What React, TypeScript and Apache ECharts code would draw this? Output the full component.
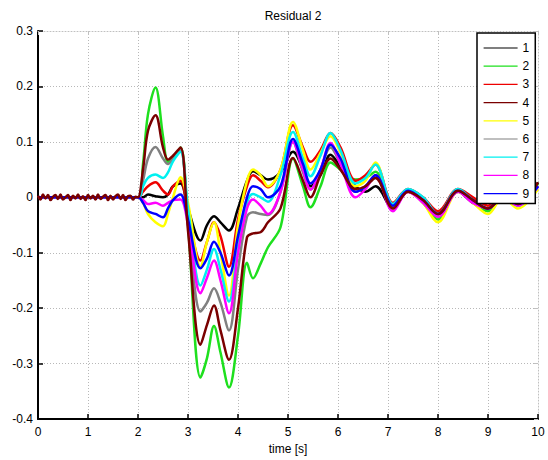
import React, { useEffect, useRef } from "react";
import * as echarts from "echarts";

const seriesNames = ["1", "2", "3", "4", "5", "6", "7", "8", "9"];
const seriesColors = ["#000000", "#1ee01e", "#ee0000", "#7a0000", "#ffff00", "#808080", "#00f0f0", "#ff00ff", "#0000ff"];

const xTicks = [0, 1, 2, 3, 4, 5, 6, 7, 8, 9, 10];
const yTicks = [-0.4, -0.3, -0.2, -0.1, 0, 0.1, 0.2, 0.3];

const noiseTime = [0, 0.05, 0.1, 0.15, 0.2, 0.25, 0.3, 0.35, 0.4, 0.45, 0.5, 0.55, 0.6, 0.65, 0.7, 0.75, 0.8, 0.85, 0.9, 0.95,
  1.0, 1.05, 1.1, 1.15, 1.2, 1.25, 1.3, 1.35, 1.4, 1.45, 1.5, 1.55, 1.6, 1.65, 1.7, 1.75, 1.8, 1.85, 1.9, 1.95];
const noiseVals = [0.003, -0.004, 0.005, -0.002, 0.004, -0.005, 0.001, 0.004, -0.003, 0.005, -0.004, 0.0, 0.004, -0.005, 0.003, -0.002, 0.005, -0.003, 0.002, -0.005,
  0.004, -0.002, 0.003, -0.004, 0.005, -0.003, 0.001, 0.004, -0.005, 0.003, -0.004, 0.002, 0.005, -0.003, 0.004, -0.005, 0.002, 0.003, -0.004, 0.001];

const time = [2.0, 2.1, 2.2, 2.35, 2.5, 2.6, 2.7, 2.85, 3.0, 3.25, 3.38, 3.52, 3.65, 3.82, 4.0, 4.18, 4.3, 4.45, 4.6, 4.85,
  5.1, 5.3, 5.45, 5.65, 5.85, 6.05, 6.35, 6.55, 6.75, 7.1, 7.4, 7.7, 8.0, 8.4, 8.7, 9.0, 9.3, 9.6, 10];

const s1 = [0, 0.0, 0.005, 0.002, 0.0, 0.005, 0.02, 0.025, -0.02, -0.078, -0.05, -0.034, -0.045, -0.06, -0.02, 0.03, 0.047, 0.04, 0.032, 0.045,
  0.082, 0.05, 0.02, 0.04, 0.077, 0.055, 0.02, 0.01, 0.02, -0.02, 0.01, -0.005, -0.03, 0.01, -0.01, -0.02, 0.0, -0.01, 0.027];
const s2 = [0, 0.06, 0.15, 0.198, 0.11, 0.064, 0.07, 0.09, -0.05, -0.325, -0.29, -0.232, -0.28, -0.343, -0.25, -0.118, -0.146, -0.12, -0.09, -0.054,
  0.07, 0.02, -0.018, 0.02, 0.063, 0.05, 0.032, 0.035, 0.046, -0.02, 0.012, -0.01, -0.04, 0.014, -0.01, -0.025, 0.0, -0.015, 0.025];
const s3 = [0, 0.01, 0.02, 0.027, 0.012, 0.005, 0.02, 0.03, -0.03, -0.114, -0.08, -0.045, -0.07, -0.125, -0.04, 0.02, 0.04, 0.03, 0.018, 0.05,
  0.13, 0.09, 0.064, 0.085, 0.116, 0.09, 0.03, 0.04, 0.059, -0.01, 0.015, 0.0, -0.025, 0.015, 0.0, -0.015, 0.005, -0.01, 0.02];
const s4 = [0, 0.05, 0.12, 0.148, 0.09, 0.068, 0.075, 0.09, -0.06, -0.266, -0.23, -0.195, -0.24, -0.293, -0.2, -0.072, -0.065, -0.063, -0.045, -0.02,
  0.071, 0.03, 0.0, 0.04, 0.07, 0.05, 0.015, 0.02, 0.035, -0.02, 0.01, -0.005, -0.03, 0.012, -0.005, -0.02, 0.0, -0.012, 0.027];
const s5 = [0, -0.01, -0.03, -0.045, -0.052, -0.03, 0.0, 0.036, -0.01, -0.125, -0.08, -0.045, -0.1, -0.177, -0.05, 0.03, 0.05, 0.04, 0.02, 0.05,
  0.136, 0.085, 0.05, 0.08, 0.11, 0.08, 0.02, 0.03, 0.063, -0.02, 0.012, -0.01, -0.045, 0.01, -0.01, -0.03, 0.0, -0.02, 0.015];
const s6 = [0, 0.03, 0.07, 0.091, 0.07, 0.06, 0.07, 0.085, -0.04, -0.206, -0.19, -0.164, -0.19, -0.24, -0.13, -0.035, -0.027, -0.03, -0.032, 0.01,
  0.1, 0.045, 0.014, 0.05, 0.09, 0.06, 0.01, 0.02, 0.04, -0.015, 0.01, -0.005, -0.035, 0.012, -0.005, -0.02, 0.0, -0.015, 0.02];
const s7 = [0, 0.02, 0.035, 0.041, 0.035, 0.045, 0.065, 0.082, -0.02, -0.159, -0.13, -0.093, -0.13, -0.188, -0.09, -0.01, 0.006, 0.0, -0.008, 0.04,
  0.118, 0.07, 0.038, 0.075, 0.116, 0.085, 0.025, 0.035, 0.059, -0.012, 0.015, 0.0, -0.03, 0.015, -0.005, -0.02, 0.003, -0.015, 0.02];
const s8 = [0, -0.005, -0.012, -0.01, -0.015, -0.01, -0.005, -0.004, -0.05, -0.173, -0.145, -0.114, -0.15, -0.209, -0.1, -0.02, -0.004, -0.015, -0.03, 0.01,
  0.1, 0.05, 0.014, 0.05, 0.098, 0.06, 0.0, 0.015, 0.04, -0.025, 0.01, -0.01, -0.035, 0.01, -0.01, -0.02, 0.0, -0.015, 0.02];
const s9 = [0, -0.01, -0.025, -0.03, -0.036, -0.02, -0.005, 0.005, -0.04, -0.128, -0.11, -0.08, -0.1, -0.141, -0.07, 0.0, 0.02, 0.015, 0.0, 0.02,
  0.105, 0.06, 0.025, 0.05, 0.095, 0.07, 0.01, 0.02, 0.04, -0.015, 0.012, -0.005, -0.03, 0.012, -0.005, -0.02, 0.0, -0.012, 0.02];

const allSeries = [s1, s2, s3, s4, s5, s6, s7, s8, s9];
const FONT = "'Liberation Sans', Arial, Helvetica, sans-serif";

function buildData(vals: number[], withNoise: boolean) {
  const head = withNoise ? noiseTime.map((t, i) => [t, noiseVals[i]]) : [[0, 0]];
  return head.concat(time.map((t, i) => [t, vals[i]]));
}

export default function App() {
  const ref = useRef<HTMLDivElement>(null);
  useEffect(() => {
    const chart = echarts.init(ref.current!, null, { renderer: "svg" });
    const option: any = {
      animation: false,
      backgroundColor: "#ffffff",
      textStyle: { fontFamily: FONT },
      title: {
        text: "Residual 2",
        left: 288,
        top: 5,
        textAlign: "center",
        textStyle: { fontSize: 12, fontWeight: "normal", color: "#000", fontFamily: FONT },
      },
      grid: { left: 38, right: 10, top: 31, bottom: 37 },
      legend: {
        data: seriesNames,
        orient: "vertical",
        left: 477,
        top: 33,
        padding: [9, 6, 4, 6],
        itemWidth: 34,
        itemHeight: 12,
        itemGap: 6.2,
        backgroundColor: "#ffffff",
        borderColor: "#000",
        borderWidth: 1.5,
        borderRadius: 0,
        itemStyle: { opacity: 0, borderWidth: 0 },
        lineStyle: { width: 1.2 },
        textStyle: { fontSize: 12, color: "#000", fontFamily: FONT },
      },
      xAxis: [
        {
          type: "value",
          min: xTicks[0],
          max: xTicks[xTicks.length - 1],
          interval: 1,
          name: "time [s]",
          nameLocation: "middle",
          nameGap: 22,
          nameTextStyle: { fontSize: 12, color: "#000", fontFamily: FONT },
          axisLine: { show: true, onZero: false, lineStyle: { color: "#000", width: 2 } },
          axisTick: { show: true, inside: true, length: 5, lineStyle: { color: "#000", width: 1.5 } },
          axisLabel: { fontSize: 12, color: "#000", margin: 7, fontFamily: FONT },
          splitLine: { show: true, lineStyle: { color: "#b8b8b8", type: [1, 2], width: 1 } },
        },
        {
          type: "value",
          position: "top",
          min: xTicks[0],
          max: xTicks[xTicks.length - 1],
          interval: 1,
          axisLine: { show: true, onZero: false, lineStyle: { color: "#c0c0c0", width: 1, type: [1, 2] } },
          axisTick: { show: true, inside: true, length: 4, lineStyle: { color: "#c0c0c0" } },
          axisLabel: { show: false },
          splitLine: { show: false },
        },
      ],
      yAxis: [
        {
          type: "value",
          min: yTicks[0],
          max: yTicks[yTicks.length - 1],
          interval: 0.1,
          axisLine: { show: true, onZero: false, lineStyle: { color: "#000", width: 2 } },
          axisTick: { show: true, inside: true, length: 5, lineStyle: { color: "#000", width: 1.5 } },
          axisLabel: {
            fontSize: 12,
            color: "#000",
            margin: 5,
            fontFamily: FONT,
            formatter: (v: number) => (Math.abs(v) < 1e-9 ? "0" : String(Math.round(v * 10) / 10)),
          },
          splitLine: { show: true, lineStyle: { color: "#b8b8b8", type: [1, 2], width: 1 } },
        },
        {
          type: "value",
          position: "right",
          min: yTicks[0],
          max: yTicks[yTicks.length - 1],
          interval: 0.1,
          axisLine: { show: true, onZero: false, lineStyle: { color: "#c0c0c0", width: 1, type: [1, 2] } },
          axisTick: { show: true, inside: true, length: 4, lineStyle: { color: "#c0c0c0" } },
          axisLabel: { show: false },
          splitLine: { show: false },
        },
      ],
      series: allSeries.map((vals, i) => ({
        name: seriesNames[i],
        type: "line",
        xAxisIndex: 0,
        yAxisIndex: 0,
        data: buildData(vals, i === 3),
        smooth: 0.35,
        symbol: "none",
        color: seriesColors[i],
        lineStyle: { color: seriesColors[i], width: 2.5 },
        z: i === 3 ? 3 : 2,
      })),
    };
    chart.setOption(option);
    return () => chart.dispose();
  }, []);
  return (
    <div
      ref={ref}
      style={{ position: "fixed", left: 0, top: 0, width: 548, height: 460, background: "#fff" }}
    />
  );
}
